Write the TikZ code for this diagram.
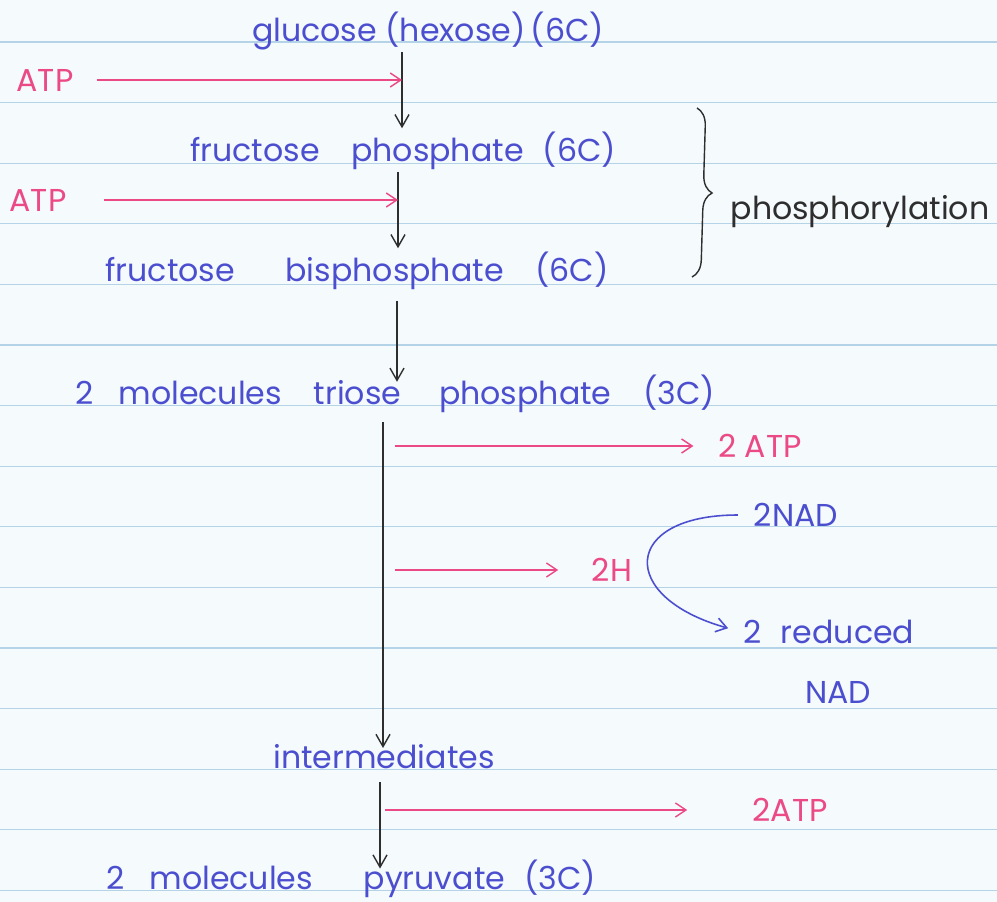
\documentclass[tikz,border=0pt]{standalone}
\usepackage{fontspec}
\setmainfont{Poppins}
\usepackage{xcolor}
\usepackage{tikz}
\usetikzlibrary{arrows.meta,decorations.pathreplacing}
\definecolor{inkblue}{HTML}{4B4FCF}
\definecolor{inkpink}{HTML}{EC4A86}
\definecolor{inkblack}{HTML}{2E2E2E}
\definecolor{paper}{HTML}{F5FAFD}
\definecolor{ruling}{HTML}{B4D3E6}

\begin{document}
\begin{tikzpicture}[x=0.02cm, y=-0.02cm,
    every node/.style={font=\fontsize{18}{20}\selectfont, inner sep=1pt},
    bluetext/.style={text=inkblue},
    pinktext/.style={text=inkpink},
    flow/.style={draw=inkblack, line width=0.8pt, -{Straight Barb[length=7pt,width=8pt]}},
    atpflow/.style={draw=inkpink, line width=0.8pt, -{Straight Barb[length=6pt,width=8pt]}},
    nadflow/.style={draw=inkblue, line width=0.9pt, -{Straight Barb[length=6pt,width=8pt]}}]
  % lined paper
  \fill[paper] (0,0) rectangle (997,902);
  \useasboundingbox (0,0) rectangle (997,902);
  \foreach \k in {0,...,14}
    \draw[ruling, line width=0.6pt] (0,{42+60.6*\k}) -- (997,{42+60.6*\k});

  \node[bluetext] (glucose) at (428,31) {glucose (hexose)\,(6C)};
  \node[pinktext] (atpA) at (45,80) {ATP};
  \node[bluetext] (fp) at (403,151) {fructose\hspace{1em}phosphate\hspace{0.6em}(6C)};
  \node[pinktext] (atpB) at (38,200) {ATP};
  \node[bluetext] (fbp) at (357,271) {fructose\hspace{1.6em}bisphosphate\hspace{1em}(6C)};
  \node[text=inkblack] (phos) at (860,212) {phosphorylation};
  \node[bluetext] (triose) at (395,394) {2\hspace{0.8em}molecules\hspace{1em}triose\hspace{1.2em}phosphate\hspace{1em}(3C)};
  \node[pinktext] (atpC) at (760,446) {2 ATP};
  \node[pinktext] (hyd) at (612,570) {2H};
  \node[bluetext] (nad) at (796,515) {2NAD};
  \node[bluetext] (red) at (829,632) {2\hspace{0.6em}reduced};
  \node[bluetext] (nadr) at (838,692) {NAD};
  \node[bluetext] (inter) at (384,757) {intermediates};
  \node[pinktext] (atpD) at (790,810) {2ATP};
  \node[bluetext] (pyr) at (351,879) {2\hspace{0.8em}molecules\hspace{1.6em}pyruvate\hspace{0.6em}(3C)};

  \coordinate (ax1) at (402,0);
  \coordinate (ax2) at (398,0);
  \coordinate (ax3) at (397,0);
  \coordinate (ax4) at (383,0);
  \coordinate (ax5) at (380,0);

  \draw[flow, shorten >=1pt] (glucose.south -| ax1) -- (fp.north -| ax1);
  \draw[flow, shorten <=0pt, shorten >=1pt] (fp.south -| ax2) -- (fbp.north -| ax2);
  \draw[flow, shorten <=5pt, shorten >=-5pt] (fbp.south -| ax3) -- (triose.north -| ax3);
  \draw[flow, shorten <=4pt, shorten >=-3pt] (triose.south -| ax4) -- (inter.north -| ax4);
  \draw[flow, shorten <=6pt, shorten >=-6pt] (inter.south -| ax5) -- (pyr.north -| ax5);

  \draw[atpflow, shorten <=12pt] (atpA.east) -- (atpA.east -| ax1);
  \draw[atpflow, shorten <=20pt] (atpB.east) -- (atpB.east -| ax2);
  \draw[atpflow, shorten <=7pt, shorten >=13pt] (atpC.west -| ax4) -- (atpC.west);
  \draw[atpflow, shorten <=7pt, shorten >=18pt] (hyd.west -| ax4) -- (hyd.west);
  \draw[atpflow, shorten <=1pt, shorten >=36pt] (atpD.west -| ax4) -- (atpD.west);

  \draw[nadflow, shorten <=8pt, shorten >=8pt] (nad.west) .. controls +(-130,0) and +(-125,-35) .. (red.west);

  \draw[inkblack, line width=0.8pt, decorate, decoration={brace, amplitude=10pt}]
    (697,108) coordinate (brtop) -- (692,277) coordinate (brbot);
\end{tikzpicture}
\end{document}
